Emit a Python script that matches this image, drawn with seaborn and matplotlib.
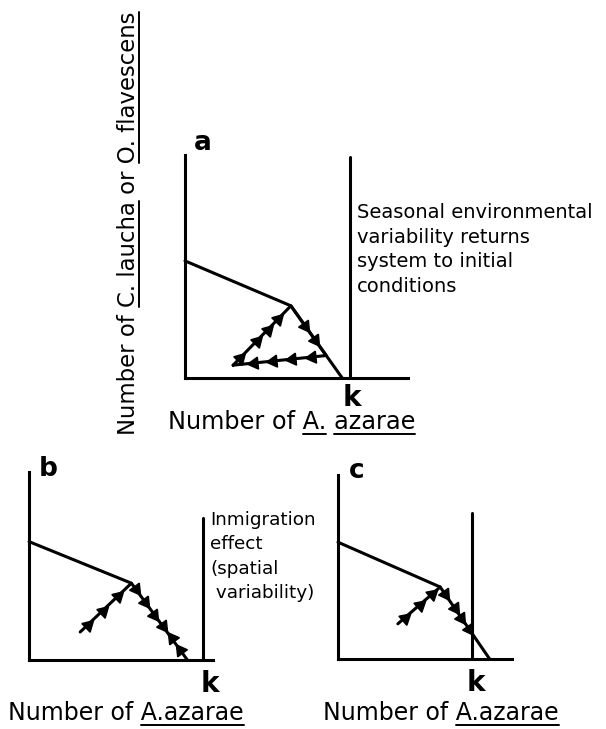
import numpy as np
import pandas as pd
import seaborn as sns
import matplotlib.pyplot as plt

sns.set_theme(style="white")
plt.rcParams['font.family'] = ['DejaVu Sans']
plt.rcParams['text.color'] = 'black'

# panel a - isocline, closed seasonal loop, carrying capacity k
a_iso_x = [0.0, 0.66, 0.98]
a_iso_y = [0.73, 0.45, 0.0]
a_path_x = [0.30, 0.66, 0.88, 0.30]
a_path_y = [0.08, 0.45, 0.14, 0.08]
a_k, a_k_top = 1.03, 1.375
a_arrows = [(0, [0.12, 0.41, 0.60, 0.78], 1),
            (1, [0.40, 0.68], 1),
            (2, [0.15, 0.37, 0.57, 0.78], 1)]

# panel b - immigration
b_iso_x = [0.0, 0.64, 0.99]
b_iso_y = [0.74, 0.48, 0.0]
b_path_x = [0.32, 0.64]
b_path_y = [0.175, 0.48]
b_k, b_k_top = 1.09, 0.89
b_path_arrows = [(0, [0.15, 0.44, 0.73], 1)]
b_iso_arrows = [(1, [0.08, 0.25, 0.41, 0.56], 1), (1, [0.72, 0.87], -1)]

# panel c - immigration, k below isocline end
c_iso_x = [0.0, 0.64, 0.95]
c_iso_y = [0.73, 0.45, 0.0]
c_path_x = [0.375, 0.64]
c_path_y = [0.22, 0.45]
c_k, c_k_top = 0.84, 0.91
c_path_arrows = [(0, [0.17, 0.52, 0.80], 1)]
c_iso_arrows = [(1, [0.10, 0.29, 0.43, 0.58], 1)]

xlab_a = "Number of A. azarae"
xlab_bc = "Number of A.azarae"
ylab = "Number of C. laucha or O. flavescens"
note_a = "Seasonal environmental\nvariability returns\nsystem to initial\nconditions"
note_b = "Inmigration\neffect\n(spatial\n variability)"

W, H = 606, 729
fig = plt.figure(figsize=(W / 100, H / 100), dpi=100)
renderer = fig.canvas.get_renderer()


def px_axes(left, bottom, width, height):
    # axes box given in pixels from the top-left corner
    return fig.add_axes([left / W, (H - bottom) / H, width / W, height / H])


def line(ax, xs, ys):
    df = pd.DataFrame({"x": xs, "y": ys})
    sns.lineplot(data=df, x="x", y="y", sort=False, estimator=None,
                 color="black", lw=2.2, ax=ax, clip_on=False)


def arrows(ax, xs, ys, spec):
    for seg, fracs, sign in spec:
        x0, y0, x1, y1 = xs[seg], ys[seg], xs[seg + 1], ys[seg + 1]
        p0 = ax.transData.transform((x0, y0))
        p1 = ax.transData.transform((x1, y1))
        ang = np.degrees(np.arctan2(p1[1] - p0[1], p1[0] - p0[0]))
        if sign < 0:
            ang += 180
        for f in fracs:
            ax.plot(x0 + f * (x1 - x0), y0 + f * (y1 - y0),
                    marker=(3, 0, ang - 90), ms=10, color="black",
                    clip_on=False)


def panel(ax, xmax, ymax, k, k_top):
    ax.set_xlim(0, xmax)
    ax.set_ylim(0, ymax)
    ax.set_xticks([])
    ax.set_yticks([])
    ax.set_xlabel("")
    ax.set_ylabel("")
    for s in ["top", "right"]:
        ax.spines[s].set_visible(False)
    for s in ["left", "bottom"]:
        ax.spines[s].set_color("black")
        ax.spines[s].set_linewidth(2.2)
    ax.plot([k, k], [0, k_top], color="black", lw=2.2, clip_on=False)


# a
ax_a = px_axes(185, 378, 223, 223)
panel(ax_a, 1.39, 1.39, a_k, a_k_top)
line(ax_a, a_iso_x, a_iso_y)
line(ax_a, a_path_x, a_path_y)
arrows(ax_a, a_path_x, a_path_y, a_arrows)

# b
ax_b = px_axes(29, 660, 184, 188)
panel(ax_b, 1.15, 1.175, b_k, b_k_top)
line(ax_b, b_iso_x, b_iso_y)
line(ax_b, b_path_x, b_path_y)
arrows(ax_b, b_path_x, b_path_y, b_path_arrows)
arrows(ax_b, b_iso_x, b_iso_y, b_iso_arrows)

# c
ax_c = px_axes(338, 659, 174, 184)
panel(ax_c, 1.09, 1.15, c_k, c_k_top)
line(ax_c, c_iso_x, c_iso_y)
line(ax_c, c_path_x, c_path_y)
arrows(ax_c, c_path_x, c_path_y, c_path_arrows)
arrows(ax_c, c_iso_x, c_iso_y, c_iso_arrows)


def ftext(x, y, s, **kw):
    return fig.text(x / W, 1 - y / H, s, **kw)


def ink_w(s, size):
    t = fig.text(0, 0, s, fontsize=size)
    w = t.get_window_extent(renderer).width
    t.remove()
    return w


def ulabel(x0, base, s, words, size, rot=False):
    # text starting at x0 (or at base for rotated) with selected words underlined
    if rot:
        ftext(base, x0, s, fontsize=size, rotation=90, rotation_mode="anchor",
              ha="left", va="baseline")
    else:
        ftext(x0, base, s, fontsize=size, ha="left", va="baseline")
    for wd in words:
        i = s.index(wd)
        j = i + len(wd)
        a = ink_w(s[:i + 1], size) - ink_w(s[i], size)
        b = ink_w(s[:j], size)
        if rot:
            xs = [(base + 4) / W] * 2
            ys = [1 - (x0 - a) / H, 1 - (x0 - b) / H]
        else:
            xs = [(x0 + a) / W, (x0 + b) / W]
            ys = [1 - (base + 5) / H] * 2
        fig.add_artist(plt.Line2D(xs, ys, color="black", lw=1.4,
                                  transform=fig.transFigure))


ftext(203, 143, "a", fontsize=19, weight="bold", ha="center", va="center")
ftext(48, 469, "b", fontsize=19, weight="bold", ha="center", va="center")
ftext(357, 471, "c", fontsize=19, weight="bold", ha="center", va="center")
for x, y in [(352, 398), (210, 684), (476, 683)]:
    ftext(x, y, "k", fontsize=20, weight="bold", ha="center", va="center")

ulabel(168, 429, xlab_a, ["A.", "azarae"], 17.3)
ulabel(8, 720, xlab_bc, ["A.", "azarae"], 17.0)
ulabel(323, 720, xlab_bc, ["A.", "azarae"], 17.0)
ulabel(435, 135, ylab, ["C. laucha", "O. flavescens"], 16.4, rot=True)

ftext(357, 203, note_a, fontsize=14, ha="left", va="top", linespacing=1.38)
ftext(210, 511, note_b, fontsize=13.2, ha="left", va="top", linespacing=1.45)

fig.savefig("out.png", dpi=100)
